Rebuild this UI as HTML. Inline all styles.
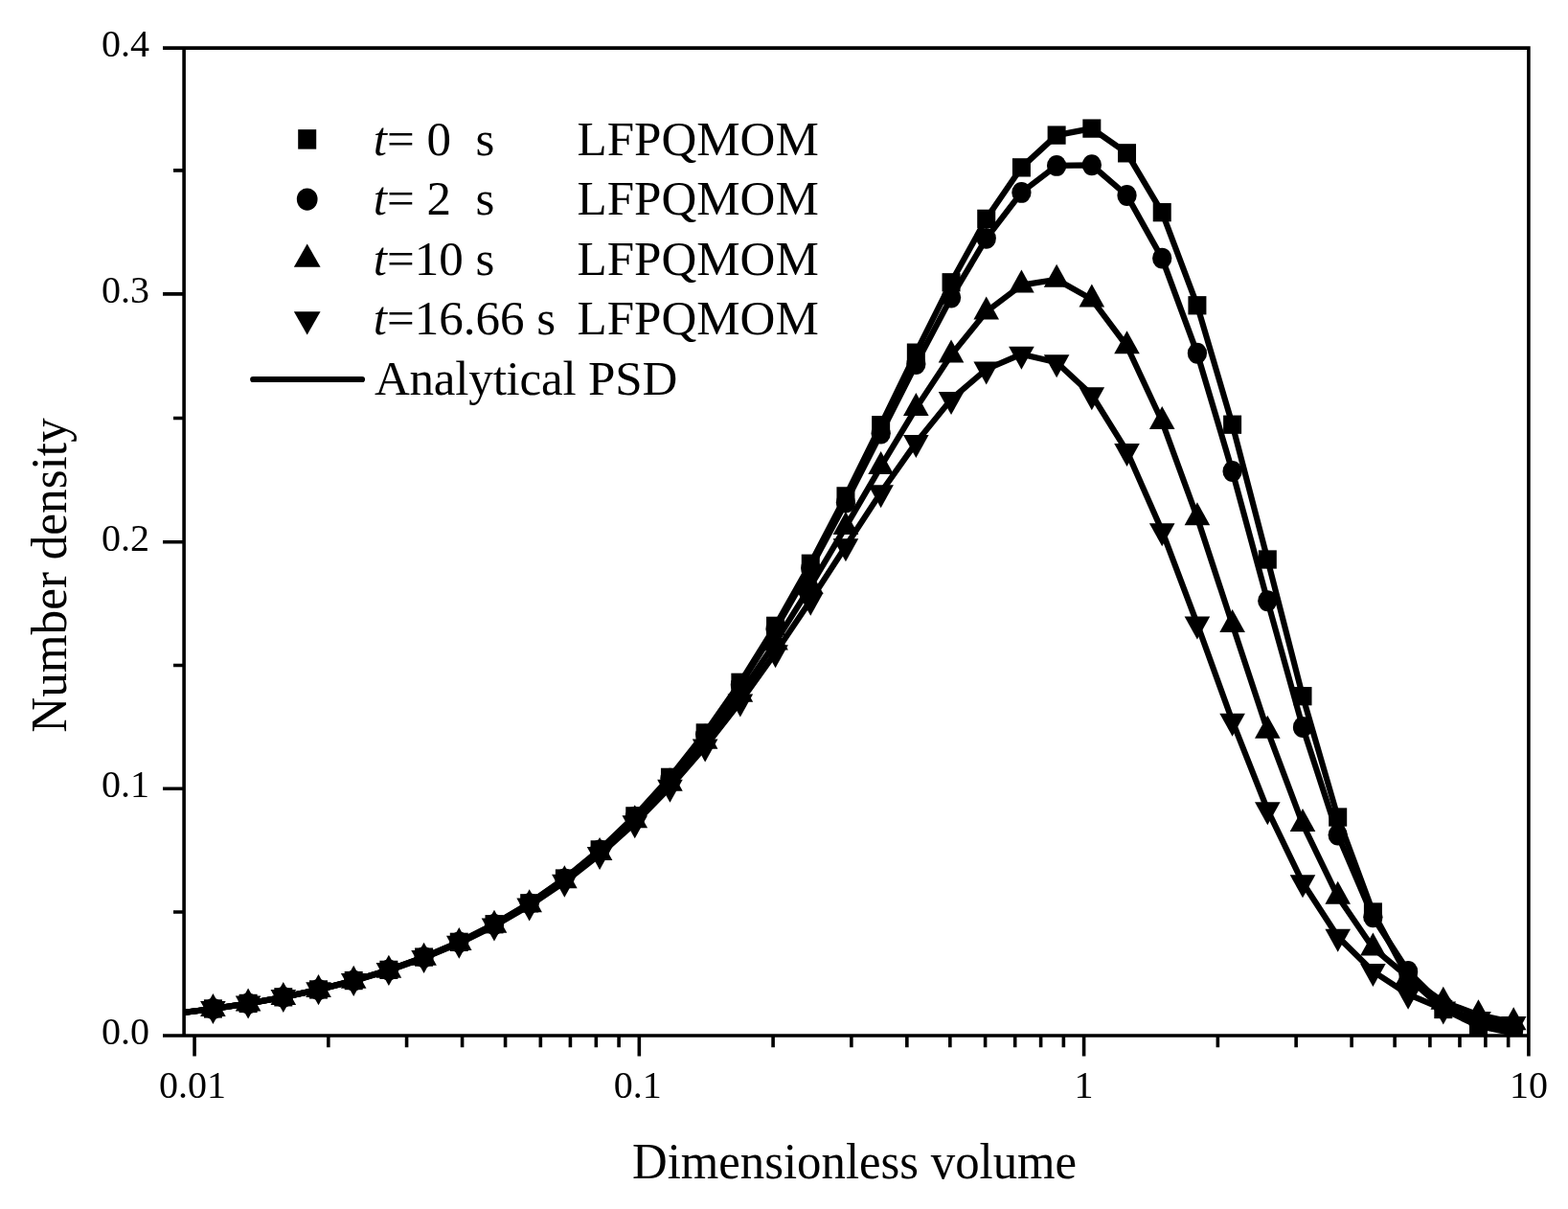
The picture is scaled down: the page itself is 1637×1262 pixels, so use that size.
<!DOCTYPE html>
<html><head><meta charset="utf-8"><title>Number density vs Dimensionless volume</title>
<style>
html,body{margin:0;padding:0;background:#fff;}
svg{display:block;}
text{font-family:"Liberation Serif","Times New Roman",serif;fill:#000;}
</style></head><body>
<svg width="1637" height="1262" viewBox="0 0 1637 1262">
<rect width="1637" height="1262" fill="#fff"/>
<defs><clipPath id="pc"><rect x="192" y="50" width="1404" height="1031"/></clipPath></defs>

<g clip-path="url(#pc)">
<g fill="none" stroke="#000" stroke-width="6.2" stroke-linejoin="round" stroke-linecap="round">
<polyline points="185.7,1057.59 222.4,1052.96 259.1,1047.43 295.79,1040.82 332.49,1032.94 369.19,1023.55 405.88,1012.37 442.58,999.09 479.28,983.35 515.98,964.74 552.67,942.81 589.37,917.04 626.07,886.91 662.76,851.87 699.46,811.38 736.16,764.98 772.86,712.34 809.55,653.35 846.25,588.28 882.95,517.9 919.64,443.72 956.34,368.17 993.04,294.79 1029.73,228.37 1066.43,174.86 1103.13,141.1 1139.83,134.09 1176.52,159.82 1213.22,221.69 1249.92,318.78 1286.61,443.2 1323.31,584 1360.01,726.7 1396.7,853 1433.4,952 1470.1,1020.5 1506.8,1053.5 1543.49,1071 1580.19,1078.5"/>
<polyline points="185.7,1057.6 222.4,1052.98 259.1,1047.45 295.79,1040.85 332.49,1032.98 369.19,1023.6 405.88,1012.44 442.58,999.2 479.28,983.51 515.98,964.96 552.67,943.12 589.37,917.49 626.07,887.54 662.76,852.76 699.46,812.65 736.16,766.76 772.86,714.83 809.55,656.82 846.25,593.07 882.95,524.46 919.64,452.62 956.34,380.1 993.04,310.55 1029.73,248.83 1066.43,200.89 1103.13,172.9 1139.83,172.3 1176.52,204 1213.22,269.6 1249.92,368.8 1286.61,492 1323.31,627.2 1360.01,759 1396.7,871.5 1433.4,957.2 1470.1,1014 1506.8,1050 1543.49,1068 1580.19,1075"/>
<polyline points="185.7,1057.64 222.4,1053.02 259.1,1047.52 295.79,1040.95 332.49,1033.12 369.19,1023.81 405.88,1012.74 442.58,999.63 479.28,984.12 515.98,965.84 552.67,944.37 589.37,919.26 626.07,890.06 662.76,856.32 699.46,817.65 736.16,773.79 772.86,724.63 809.55,670.4 846.25,611.75 882.95,549.94 919.64,486.98 956.34,426.1 993.04,370.6 1029.73,325.4 1066.43,297.6 1103.13,291.8 1139.83,312.4 1176.52,361.3 1213.22,440 1249.92,540.3 1286.61,651.9 1323.31,762.7 1360.01,860.1 1396.7,935.8 1433.4,989.4 1470.1,1020 1506.8,1045.8 1543.49,1059.3 1580.19,1067.2"/>
<polyline points="185.7,1057.66 222.4,1053.07 259.1,1047.58 295.79,1041.03 332.49,1033.24 369.19,1023.98 405.88,1012.99 442.58,999.98 479.28,984.63 515.98,966.56 552.67,945.4 589.37,920.72 626.07,892.12 662.76,859.23 699.46,821.75 736.16,779.51 772.86,732.58 809.55,681.37 846.25,626.76 882.95,570.25 919.64,514.14 956.34,462.1 993.04,416.9 1029.73,385.5 1066.43,369.7 1103.13,378.3 1139.83,412.2 1176.52,471.1 1213.22,554.2 1249.92,651.4 1286.61,752.7 1323.31,845.3 1360.01,921.3 1396.7,977.8 1433.4,1014 1470.1,1037.8 1506.8,1053.4 1543.49,1064 1580.19,1069.1"/>
</g>
<g fill="#000">
<rect x="212.9" y="1043.31" width="19" height="19.3"/>
<ellipse cx="222.4" cy="1052.98" rx="10.15" ry="10.95"/>
<path d="M222.4 1037.02L235.7 1061.02L209.1 1061.02Z"/>
<path d="M222.4 1069.07L235.7 1045.07L209.1 1045.07Z"/>
<rect x="249.6" y="1037.78" width="19" height="19.3"/>
<ellipse cx="259.1" cy="1047.45" rx="10.15" ry="10.95"/>
<path d="M259.1 1031.52L272.4 1055.52L245.8 1055.52Z"/>
<path d="M259.1 1063.58L272.4 1039.58L245.8 1039.58Z"/>
<rect x="286.29" y="1031.17" width="19" height="19.3"/>
<ellipse cx="295.79" cy="1040.85" rx="10.15" ry="10.95"/>
<path d="M295.79 1024.95L309.09 1048.95L282.49 1048.95Z"/>
<path d="M295.79 1057.03L309.09 1033.03L282.49 1033.03Z"/>
<rect x="322.99" y="1023.29" width="19" height="19.3"/>
<ellipse cx="332.49" cy="1032.98" rx="10.15" ry="10.95"/>
<path d="M332.49 1017.12L345.79 1041.12L319.19 1041.12Z"/>
<path d="M332.49 1049.24L345.79 1025.24L319.19 1025.24Z"/>
<rect x="359.69" y="1013.9" width="19" height="19.3"/>
<ellipse cx="369.19" cy="1023.6" rx="10.15" ry="10.95"/>
<path d="M369.19 1007.81L382.49 1031.81L355.89 1031.81Z"/>
<path d="M369.19 1039.98L382.49 1015.98L355.89 1015.98Z"/>
<rect x="396.38" y="1002.72" width="19" height="19.3"/>
<ellipse cx="405.88" cy="1012.44" rx="10.15" ry="10.95"/>
<path d="M405.88 996.74L419.19 1020.74L392.58 1020.74Z"/>
<path d="M405.88 1028.99L419.19 1004.99L392.58 1004.99Z"/>
<rect x="433.08" y="989.44" width="19" height="19.3"/>
<ellipse cx="442.58" cy="999.2" rx="10.15" ry="10.95"/>
<path d="M442.58 983.63L455.88 1007.63L429.28 1007.63Z"/>
<path d="M442.58 1015.98L455.88 991.98L429.28 991.98Z"/>
<rect x="469.78" y="973.7" width="19" height="19.3"/>
<ellipse cx="479.28" cy="983.51" rx="10.15" ry="10.95"/>
<path d="M479.28 968.12L492.58 992.12L465.98 992.12Z"/>
<path d="M479.28 1000.63L492.58 976.63L465.98 976.63Z"/>
<rect x="506.48" y="955.09" width="19" height="19.3"/>
<ellipse cx="515.98" cy="964.96" rx="10.15" ry="10.95"/>
<path d="M515.98 949.84L529.28 973.84L502.68 973.84Z"/>
<path d="M515.98 982.56L529.28 958.56L502.68 958.56Z"/>
<rect x="543.17" y="933.16" width="19" height="19.3"/>
<ellipse cx="552.67" cy="943.12" rx="10.15" ry="10.95"/>
<path d="M552.67 928.37L565.97 952.37L539.37 952.37Z"/>
<path d="M552.67 961.4L565.97 937.4L539.37 937.4Z"/>
<rect x="579.87" y="907.39" width="19" height="19.3"/>
<ellipse cx="589.37" cy="917.49" rx="10.15" ry="10.95"/>
<path d="M589.37 903.26L602.67 927.26L576.07 927.26Z"/>
<path d="M589.37 936.72L602.67 912.72L576.07 912.72Z"/>
<rect x="616.57" y="877.26" width="19" height="19.3"/>
<ellipse cx="626.07" cy="887.54" rx="10.15" ry="10.95"/>
<path d="M626.07 874.06L639.37 898.06L612.77 898.06Z"/>
<path d="M626.07 908.12L639.37 884.12L612.77 884.12Z"/>
<rect x="653.26" y="842.22" width="19" height="19.3"/>
<ellipse cx="662.76" cy="852.76" rx="10.15" ry="10.95"/>
<path d="M662.76 840.32L676.06 864.32L649.46 864.32Z"/>
<path d="M662.76 875.23L676.06 851.23L649.46 851.23Z"/>
<rect x="689.96" y="801.73" width="19" height="19.3"/>
<ellipse cx="699.46" cy="812.65" rx="10.15" ry="10.95"/>
<path d="M699.46 801.65L712.76 825.65L686.16 825.65Z"/>
<path d="M699.46 837.75L712.76 813.75L686.16 813.75Z"/>
<rect x="726.66" y="755.33" width="19" height="19.3"/>
<ellipse cx="736.16" cy="766.76" rx="10.15" ry="10.95"/>
<path d="M736.16 757.79L749.46 781.79L722.86 781.79Z"/>
<path d="M736.16 795.51L749.46 771.51L722.86 771.51Z"/>
<rect x="763.36" y="702.69" width="19" height="19.3"/>
<ellipse cx="772.86" cy="714.83" rx="10.15" ry="10.95"/>
<path d="M772.86 708.63L786.15 732.63L759.56 732.63Z"/>
<path d="M772.86 748.58L786.15 724.58L759.56 724.58Z"/>
<rect x="800.05" y="643.7" width="19" height="19.3"/>
<ellipse cx="809.55" cy="656.82" rx="10.15" ry="10.95"/>
<path d="M809.55 654.4L822.85 678.4L796.25 678.4Z"/>
<path d="M809.55 697.37L822.85 673.37L796.25 673.37Z"/>
<rect x="836.75" y="578.63" width="19" height="19.3"/>
<ellipse cx="846.25" cy="593.07" rx="10.15" ry="10.95"/>
<path d="M846.25 595.75L859.55 619.75L832.95 619.75Z"/>
<path d="M846.25 642.76L859.55 618.76L832.95 618.76Z"/>
<rect x="873.45" y="508.25" width="19" height="19.3"/>
<ellipse cx="882.95" cy="524.46" rx="10.15" ry="10.95"/>
<path d="M882.95 533.94L896.25 557.94L869.65 557.94Z"/>
<path d="M882.95 586.25L896.25 562.25L869.65 562.25Z"/>
<rect x="910.14" y="434.07" width="19" height="19.3"/>
<ellipse cx="919.64" cy="452.62" rx="10.15" ry="10.95"/>
<path d="M919.64 470.98L932.94 494.98L906.34 494.98Z"/>
<path d="M919.64 530.14L932.94 506.14L906.34 506.14Z"/>
<rect x="946.84" y="358.52" width="19" height="19.3"/>
<ellipse cx="956.34" cy="380.1" rx="10.15" ry="10.95"/>
<path d="M956.34 410.1L969.64 434.1L943.04 434.1Z"/>
<path d="M956.34 478.1L969.64 454.1L943.04 454.1Z"/>
<rect x="983.54" y="285.14" width="19" height="19.3"/>
<ellipse cx="993.04" cy="310.55" rx="10.15" ry="10.95"/>
<path d="M993.04 354.6L1006.34 378.6L979.74 378.6Z"/>
<path d="M993.04 432.9L1006.34 408.9L979.74 408.9Z"/>
<rect x="1020.23" y="218.72" width="19" height="19.3"/>
<ellipse cx="1029.73" cy="248.83" rx="10.15" ry="10.95"/>
<path d="M1029.73 309.4L1043.03 333.4L1016.43 333.4Z"/>
<path d="M1029.73 401.5L1043.03 377.5L1016.43 377.5Z"/>
<rect x="1056.93" y="165.21" width="19" height="19.3"/>
<ellipse cx="1066.43" cy="200.89" rx="10.15" ry="10.95"/>
<path d="M1066.43 281.6L1079.73 305.6L1053.13 305.6Z"/>
<path d="M1066.43 385.7L1079.73 361.7L1053.13 361.7Z"/>
<rect x="1093.63" y="131.45" width="19" height="19.3"/>
<ellipse cx="1103.13" cy="172.9" rx="10.15" ry="10.95"/>
<path d="M1103.13 275.8L1116.43 299.8L1089.83 299.8Z"/>
<path d="M1103.13 394.3L1116.43 370.3L1089.83 370.3Z"/>
<rect x="1130.33" y="124.44" width="19" height="19.3"/>
<ellipse cx="1139.83" cy="172.3" rx="10.15" ry="10.95"/>
<path d="M1139.83 296.4L1153.12 320.4L1126.53 320.4Z"/>
<path d="M1139.83 428.2L1153.12 404.2L1126.53 404.2Z"/>
<rect x="1167.02" y="150.17" width="19" height="19.3"/>
<ellipse cx="1176.52" cy="204" rx="10.15" ry="10.95"/>
<path d="M1176.52 345.3L1189.82 369.3L1163.22 369.3Z"/>
<path d="M1176.52 487.1L1189.82 463.1L1163.22 463.1Z"/>
<rect x="1203.72" y="212.04" width="19" height="19.3"/>
<ellipse cx="1213.22" cy="269.6" rx="10.15" ry="10.95"/>
<path d="M1213.22 424L1226.52 448L1199.92 448Z"/>
<path d="M1213.22 570.2L1226.52 546.2L1199.92 546.2Z"/>
<rect x="1240.42" y="309.13" width="19" height="19.3"/>
<ellipse cx="1249.92" cy="368.8" rx="10.15" ry="10.95"/>
<path d="M1249.92 524.3L1263.22 548.3L1236.62 548.3Z"/>
<path d="M1249.92 667.4L1263.22 643.4L1236.62 643.4Z"/>
<rect x="1277.11" y="433.55" width="19" height="19.3"/>
<ellipse cx="1286.61" cy="492" rx="10.15" ry="10.95"/>
<path d="M1286.61 635.9L1299.91 659.9L1273.31 659.9Z"/>
<path d="M1286.61 768.7L1299.91 744.7L1273.31 744.7Z"/>
<rect x="1313.81" y="574.35" width="19" height="19.3"/>
<ellipse cx="1323.31" cy="627.2" rx="10.15" ry="10.95"/>
<path d="M1323.31 746.7L1336.61 770.7L1310.01 770.7Z"/>
<path d="M1323.31 861.3L1336.61 837.3L1310.01 837.3Z"/>
<rect x="1350.51" y="717.05" width="19" height="19.3"/>
<ellipse cx="1360.01" cy="759" rx="10.15" ry="10.95"/>
<path d="M1360.01 844.1L1373.31 868.1L1346.71 868.1Z"/>
<path d="M1360.01 937.3L1373.31 913.3L1346.71 913.3Z"/>
<rect x="1387.2" y="843.35" width="19" height="19.3"/>
<ellipse cx="1396.7" cy="871.5" rx="10.15" ry="10.95"/>
<path d="M1396.7 919.8L1410 943.8L1383.4 943.8Z"/>
<path d="M1396.7 993.8L1410 969.8L1383.4 969.8Z"/>
<rect x="1423.9" y="942.35" width="19" height="19.3"/>
<ellipse cx="1433.4" cy="957.2" rx="10.15" ry="10.95"/>
<path d="M1433.4 973.4L1446.7 997.4L1420.1 997.4Z"/>
<path d="M1433.4 1030L1446.7 1006L1420.1 1006Z"/>
<rect x="1460.6" y="1010.85" width="19" height="19.3"/>
<ellipse cx="1470.1" cy="1014" rx="10.15" ry="10.95"/>
<path d="M1470.1 1004L1483.4 1028L1456.8 1028Z"/>
<path d="M1470.1 1053.8L1483.4 1029.8L1456.8 1029.8Z"/>
<rect x="1497.3" y="1043.85" width="19" height="19.3"/>
<ellipse cx="1506.8" cy="1050" rx="10.15" ry="10.95"/>
<path d="M1506.8 1029.8L1520.1 1053.8L1493.5 1053.8Z"/>
<path d="M1506.8 1069.4L1520.1 1045.4L1493.5 1045.4Z"/>
<rect x="1533.99" y="1061.35" width="19" height="19.3"/>
<ellipse cx="1543.49" cy="1068" rx="10.15" ry="10.95"/>
<path d="M1543.49 1043.3L1556.79 1067.3L1530.19 1067.3Z"/>
<path d="M1543.49 1080L1556.79 1056L1530.19 1056Z"/>
<rect x="1570.69" y="1068.85" width="19" height="19.3"/>
<ellipse cx="1580.19" cy="1075" rx="10.15" ry="10.95"/>
<path d="M1580.19 1051.2L1593.49 1075.2L1566.89 1075.2Z"/>
<path d="M1580.19 1085.1L1593.49 1061.1L1566.89 1061.1Z"/>
</g></g>
<path fill="none" stroke="#000" stroke-width="3.6" d="M170 50.15H1597.7M192.1 50.15V1081M1595.9 48.35V1102.5M170 1081H1595.9M170 823.3H192.1M170 565.8H192.1M170 306.85H192.1M181 952H192.1M181 694.5H192.1M181 436.5H192.1M181 177.9H192.1M203.05 1081V1102.5M342.81 1081V1093.3M424.57 1081V1093.3M482.57 1081V1093.3M527.57 1081V1093.3M564.33 1081V1093.3M595.41 1081V1093.3M622.34 1081V1093.3M646.09 1081V1093.3M667.33 1081V1102.5M807.09 1081V1093.3M888.85 1081V1093.3M946.85 1081V1093.3M991.85 1081V1093.3M1028.61 1081V1093.3M1059.69 1081V1093.3M1086.62 1081V1093.3M1110.37 1081V1093.3M1131.61 1081V1102.5M1271.37 1081V1093.3M1353.13 1081V1093.3M1411.13 1081V1093.3M1456.13 1081V1093.3M1492.89 1081V1093.3M1523.97 1081V1093.3M1550.9 1081V1093.3M1574.65 1081V1093.3"/>
<g font-size="40" text-anchor="end">
<text x="155.9" y="1089.8">0.0</text>
<text x="155.9" y="832.1">0.1</text>
<text x="155.9" y="574.6">0.2</text>
<text x="155.9" y="315.65">0.3</text>
<text x="155.9" y="58.95">0.4</text>
</g>
<g font-size="40" text-anchor="middle">
<text x="201" y="1146.4">0.01</text>
<text x="665.8" y="1146.4">0.1</text>
<text x="1131.5" y="1146.4">1</text>
<text x="1595.9" y="1146.4">10</text>
</g>
<text transform="matrix(1 0 0 1.0200 0 -24.600)" x="660" y="1230" font-size="50.8">Dimensionless volume</text>
<text transform="translate(68.8 764.8) rotate(-90) scale(1.004 1.027)" x="0" y="0" font-size="51">Number density</text>
<g font-size="51" style="white-space:pre">
<text x="389.8" y="161.5" xml:space="preserve"><tspan font-style="italic">t</tspan>= 0  s</text>
<text x="602.5" y="161.5">LFPQMOM</text>
<text x="389.8" y="224.15" xml:space="preserve"><tspan font-style="italic">t</tspan>= 2  s</text>
<text x="602.5" y="224.15">LFPQMOM</text>
<text x="389.8" y="286.8" xml:space="preserve"><tspan font-style="italic">t</tspan>=10 s</text>
<text x="602.5" y="286.8">LFPQMOM</text>
<text x="389.8" y="349.45" xml:space="preserve"><tspan font-style="italic">t</tspan>=16.66 s</text>
<text x="602.5" y="349.45">LFPQMOM</text>
<text x="390.9" y="412.1" letter-spacing="-0.18">Analytical PSD</text>
</g>
<g fill="#000">
<rect x="311.2" y="135.15" width="19" height="20.5"/>
<ellipse cx="320.7" cy="208.05" rx="10.85" ry="11.65"/>
<path d="M320.7 254.43L334.55 278.83L306.85 278.83Z"/>
<path d="M320.7 349.62L334.55 325.22L306.85 325.22Z"/>
</g>
<path d="M264.2 396H378" stroke="#000" stroke-width="6.2" stroke-linecap="round"/>
</svg>
</body></html>
